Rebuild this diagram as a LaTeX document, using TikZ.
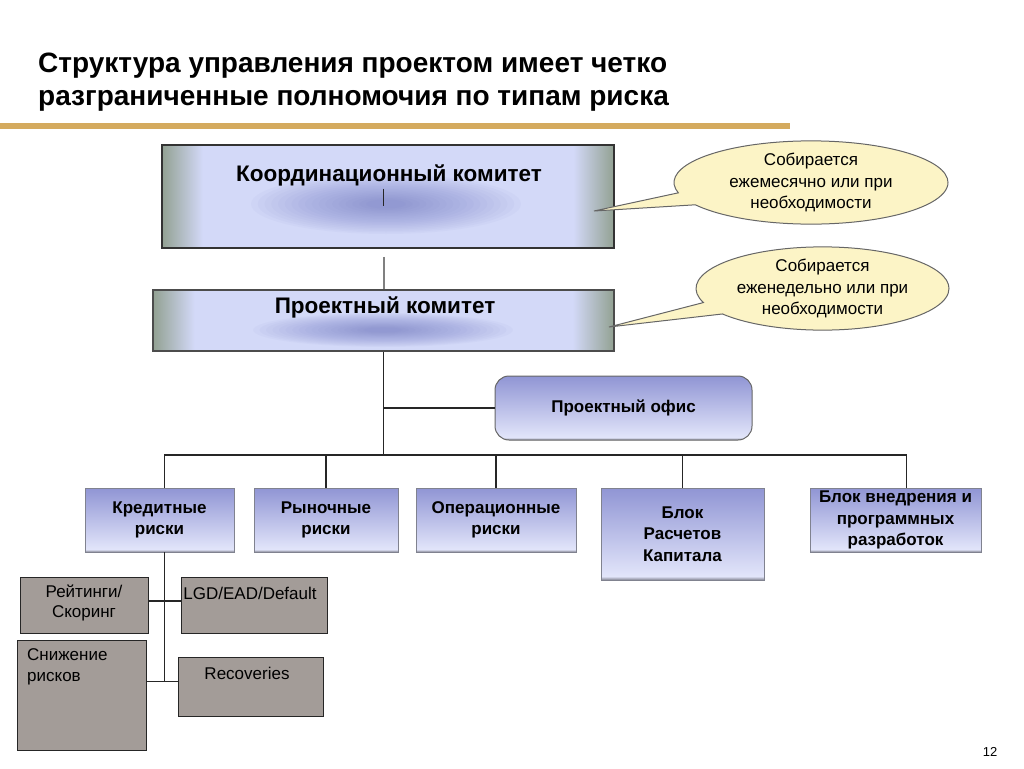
\documentclass[tikz,border=0pt]{standalone}
\usepackage{fontspec}
\setmainfont{Liberation Sans}
\usetikzlibrary{shapes.callouts,calc}

\definecolor{rulegold}{HTML}{D4AA5E}
\definecolor{panelgreen}{HTML}{92A192}
\definecolor{panellav}{HTML}{D3D9F8}
\definecolor{glowblue}{HTML}{5A62B8}
\definecolor{tiletop}{HTML}{9095D4}
\definecolor{tilebot}{HTML}{E2E5FA}
\definecolor{tileshadow}{HTML}{80828F}
\definecolor{subgrey}{HTML}{A39C98}
\definecolor{notefill}{HTML}{FCF4C6}

\pgfdeclarehorizontalshading{panel}{100bp}{color(0bp)=(panelgreen); color(25bp)=(panelgreen); color(29.5bp)=(panellav); color(70.5bp)=(panellav); color(75bp)=(panelgreen); color(100bp)=(panelgreen)}
\pgfdeclareverticalshading{tile}{100bp}{color(0bp)=(tileshadow); color(25bp)=(tileshadow); color(27bp)=(tilebot); color(75bp)=(tiletop); color(100bp)=(tiletop)}

\tikzset{
  panelbox/.style={draw=black!80, line width=1.5, shading=panel, inner sep=0pt},
  paneltext/.style={inner sep=0pt, font=\bfseries\fontsize{22.5}{26}\selectfont},
  tilebox/.style={draw=tileshadow, line width=.6, shading=tile, inner sep=0pt, align=center,
    font=\bfseries\fontsize{17}{21.5}\selectfont},
  subbox/.style={draw=black!85, line width=1, fill=subgrey, inner sep=0pt},
  subtext/.style={inner sep=0pt, font=\fontsize{17}{20.5}\selectfont},
  note/.style={ellipse callout, draw=black!60, line width=1, fill=notefill, inner sep=0pt,
    align=center, callout pointer arc=18, font=\fontsize{17}{21.5}\selectfont},
  link/.style={draw=black!85, line width=1.2},
  spine/.style={draw=black!50, line width=2}
}

\def\subbox(#1,#2,#3,#4,#5){
  \node[subbox, minimum width=#4, minimum height=#5] (#1) at (#2,#3) {};
}
\def\glow(#1,#2,#3,#4){
  \foreach \r in {1,0.95,...,0.1}
    \fill[glowblue, opacity=0.035] (#1,#2) ellipse [x radius=#3*\r, y radius=#4*\r];
}

\begin{document}
\begin{tikzpicture}[x=1pt,y=-1pt]
\useasboundingbox (0,0) rectangle (1024,768);
\node[anchor=north west, inner sep=0pt, align=left, font=\bfseries\fontsize{28}{33}\selectfont] (title) at (38,52.5)
  {Структура управления проектом имеет четко\\разграниченные полномочия по типам риска};
\fill[rulegold] (0,123) rectangle (790,129);

\node[panelbox, minimum width=452, minimum height=103] (kk) at (388,196.5) {};
\glow(386,204,135,30)
\node[paneltext] (kk_txt) at (389,175) {Координационный комитет};
\node[panelbox, draw=black!70, line width=1.2, minimum width=461, minimum height=61] (pk) at (383.5,320.5) {};
\glow(383,330,130,17)
\node[paneltext] (pk_txt) at (385,307) {Проектный комитет};

\coordinate (ptr1) at (594,211);
\coordinate (ptr2) at (609,327);
\node[note, minimum width=274, minimum height=79, callout absolute pointer={(ptr1)}] (note1) at (811,182.5)
  {Собирается\\ежемесячно или при\\необходимости};
\node[note, minimum width=253, minimum height=77, callout absolute pointer={(ptr2)}] (note2) at (822.5,288.5)
  {Собирается\\еженедельно или при\\необходимости};

\node[tilebox, draw=black!60, line width=1, rounded corners=14, minimum width=257, minimum height=64] (po) at (623.5,408) {Проектный офис};

\node[tilebox, minimum width=149, minimum height=64] (cr) at (159.5,520) {Кредитные\\риски};
\node[tilebox, minimum width=144, minimum height=64] (mr) at (326,520) {Рыночные\\риски};
\node[tilebox, minimum width=160, minimum height=64] (opr) at (496,520) {Операционные\\риски};
\node[tilebox, minimum width=163, minimum height=92] (cap) at (682.5,534) {Блок\\Расчетов\\Капитала};
\node[tilebox, minimum width=171, minimum height=64] (impl) at (895.5,520) {Блок внедрения и\\программных\\разработок};

\subbox(rate,84,605,128,56)
\subbox(lgd,254,605,146,56)
\subbox(snz,81.5,695,129,110)
\subbox(rec,250.5,686.5,145,59)
\node[subtext, align=center] (rate_txt) at (84,603) {Рейтинги/\\Скоринг};
\node[subtext] (lgd_txt) at (250,593) {LGD/EAD/Default};
\node[subtext, align=left, anchor=west] (snz_txt) at (27,667) {Снижение\\рисков};
\node[subtext] (rec_txt) at (247,673) {Recoveries};

\coordinate (bus) at (383.5,455);
\draw[spine] ([yshift=-8pt]kk.south -| pk.north) -- (pk.north);
\draw[link] ([yshift=8pt]kk.center -| pk.north) -- ([yshift=-9pt]kk.center -| pk.north);
\draw[link] (pk.south) -- (bus);
\draw[link] (pk.south |- po.west) -- (po.west);
\draw[link] ([xshift=5pt]cr.north) -- ([xshift=5pt]cr.north |- bus) -- ([xshift=11pt]impl.north |- bus) -- ([xshift=11pt]impl.north);
\foreach \n in {mr,opr,cap}
  \draw[link] (\n.north |- bus) -- (\n.north);
\draw[link] ([xshift=5pt]cr.south) -- ++(0,129);
\draw[link] ([yshift=4pt]rate.east) -- ([yshift=4pt]rate.east -| lgd.west);
\draw[link] ([yshift=5pt]rec.west) -- ([yshift=5pt]rec.west -| snz.east);

\node[inner sep=0pt, font=\fontsize{13}{15}\selectfont] (page) at (990,752) {12};
\end{tikzpicture}
\end{document}
